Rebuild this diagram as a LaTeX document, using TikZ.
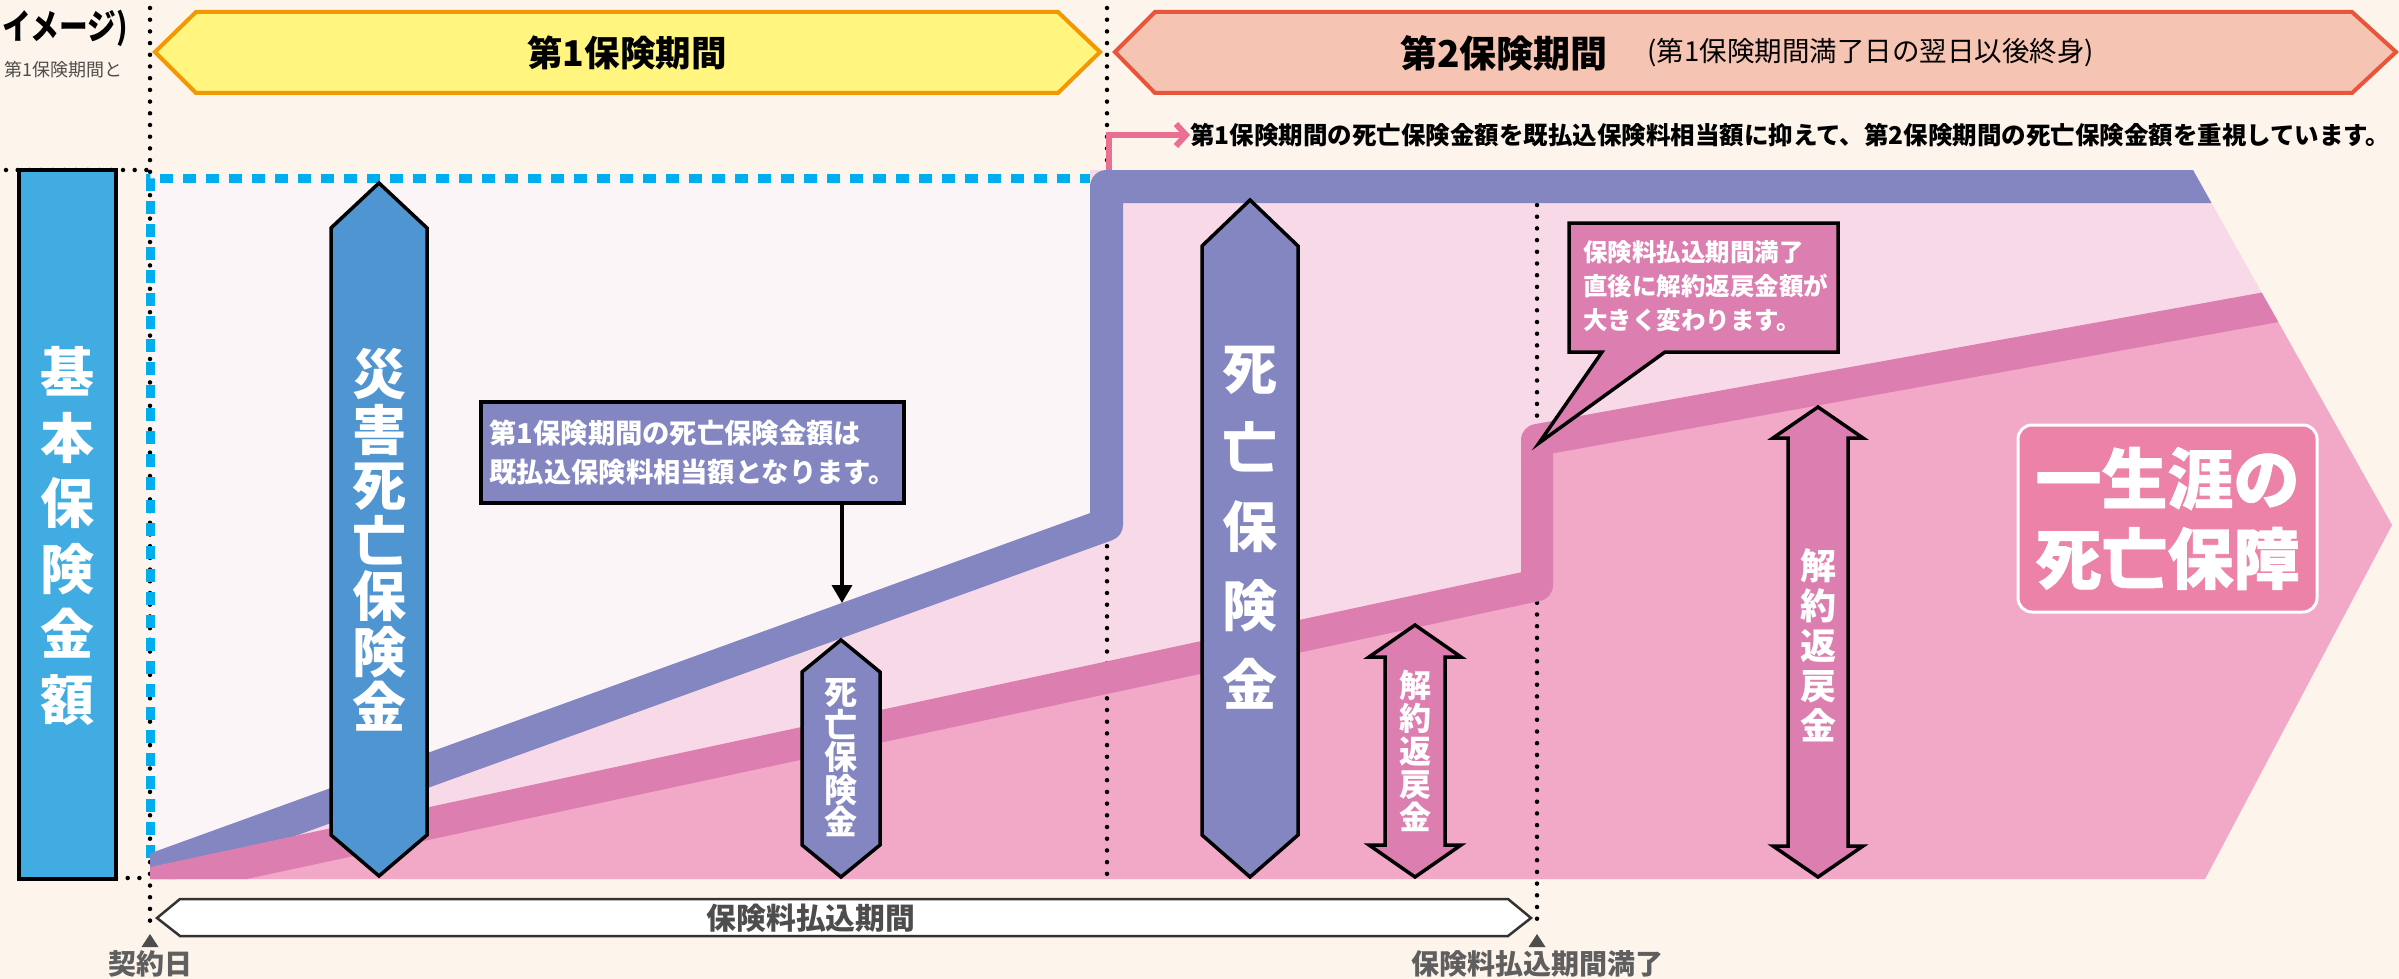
\documentclass[tikz,border=0pt]{standalone}
\usepackage{fontspec}
\setmainfont{Noto Sans CJK JP}
\newfontfamily\heavyfont{Noto Sans CJK JP}[FakeBold=1.2]
\usetikzlibrary{arrows.meta}
\definecolor{bg}{HTML}{FDF4EC}
\definecolor{yelf}{HTML}{FFF57F}
\definecolor{yeld}{HTML}{F39800}
\definecolor{salf}{HTML}{F6C4B3}
\definecolor{sald}{HTML}{E9553A}
\definecolor{vlpink}{HTML}{FCF5F8}
\definecolor{lpink}{HTML}{F8D9E7}
\definecolor{mpink}{HTML}{F2A9C8}
\definecolor{purp}{HTML}{8386C0}
\definecolor{pinkb}{HTML}{DC7FB0}
\definecolor{barblue}{HTML}{40ACE1}
\definecolor{arrblue}{HTML}{4F95D1}
\definecolor{cyanc}{HTML}{00AEEF}
\definecolor{notepink}{HTML}{EA6F92}
\definecolor{boxpink}{HTML}{EC82A8}
\definecolor{txtgray}{HTML}{4D4D4D}
\newcommand\fsz[2]{\fontsize{#1}{#2}\selectfont}
\tikzset{
  dotline/.style={line width=4.5, line cap=round, dash pattern=on 0pt off 11.7pt},
  outl/.style={draw=black, line width=3.5, line join=miter},
  vtext/.style={text=white, font=\bfseries#1, align=center, inner sep=0},
}
\begin{document}
\begin{tikzpicture}[x=1pt,y=-1pt]
\useasboundingbox (0,0) rectangle (2399,979);
\clip (0,0) rectangle (2399,979);
\fill[bg] (0,0) rectangle (2399,979);

% chart fills
\begin{scope}
\clip (150,178) -- (1090,178) -- (1090,170) -- (2193,170) -- (2392,525) -- (2205,879) -- (150,879) -- cycle;
\fill[lpink] (140,160) rectangle (2400,900);
\fill[vlpink] (140,178) -- (1106.5,178) -- (1106.5,524.7) -- (140,874.6) -- cycle;
\fill[mpink] (140,885.6) -- (1537,585.2) -- (1537,440) -- (2400,283.8) -- (2400,900) -- (140,900) -- cycle;
\end{scope}

% dotted guides
\draw[dotline] (150,8) -- (150,930);
\draw[dotline] (1107,8) -- (1107,880);
\draw[dotline] (1537,205) -- (1537,930);
\draw[dotline] (6,170) -- (150,170);
\draw[dotline] (116,878) -- (150,878);

% dashed cyan frame
\draw[cyanc, line width=9, dash pattern=on 13 off 10] (150,858) -- (150,178) -- (1090,178);

% bands
\begin{scope}
\clip (150,178) -- (1090,178) -- (1090,170) -- (2193,170) -- (2392,525) -- (2205,879) -- (150,879) -- cycle;
\draw[purp, line width=33, line join=round] (140,874.6) -- (1106.5,524.7) -- (1106.5,186.5) -- (2400,186.5);
\draw[pinkb, line width=32, line join=round] (140,885.6) -- (1537,585.2) -- (1537,440) -- (2400,283.8);
\end{scope}

% headers
\draw[yeld, fill=yelf, line width=4] (155,52) -- (196,12) -- (1058,12) -- (1100,52) -- (1058,93) -- (196,93) -- cycle;
\node[font=\bfseries\fsz{35.5}{40}] (h1) at (627,53) {第1保険期間};
\draw[sald, fill=salf, line width=4] (1115,52) -- (1155,12) -- (2352,12) -- (2396,52) -- (2352,93) -- (1155,93) -- cycle;
\node[font=\bfseries\fsz{37}{40}] (h2) at (1504,53) {第2保険期間};
\node[font=\fsz{27.5}{30}, anchor=west] (h2b) at (1644,53) {(第1保険期間満了日の翌日以後終身)};

% top-left title fragments
\node[font=\bfseries\fsz{35}{40}, anchor=east, xscale=0.82, inner sep=0] (ttl) at (128,28) {イメージ)};
\node[font=\fsz{18}{22}, text=txtgray, anchor=east, inner sep=0] (sub) at (123,70) {第1保険期間と};

% pink note arrow
\node[font=\bfseries\fsz{24.5}{28}, anchor=west, inner sep=0] (note) at (1190,135) {第1保険期間の死亡保険金額を既払込保険料相当額に抑えて、第2保険期間の死亡保険金額を重視しています。};
\coordinate (nstart) at (1109,170);
\draw[notepink, line width=6, -{Straight Barb[length=10,width=22,line width=6]}] (nstart) -- (1109,135) -- (note.west);

% basic amount bar
\draw[outl, fill=barblue] (19,170) rectangle (116,879);
\node[vtext=\fsz{54}{65.5}] (kihon) at (67,536) {基\\本\\保\\険\\金\\額};

% disaster death benefit arrow
\draw[outl, fill=arrblue] (379,183) -- (427,228) -- (427,835) -- (379,876) -- (331,835) -- (331,228) -- cycle;
\node[vtext=\fsz{54}{55.5}] (saigai) at (379,540) {災\\害\\死\\亡\\保\\険\\金};

% small death benefit arrow (1st period)
\draw[outl, fill=purp] (841,640) -- (880,672) -- (880,845) -- (841,877) -- (802,845) -- (802,672) -- cycle;
\node[vtext=\fsz{33}{32.5}] (shibo1) at (841,758) {死\\亡\\保\\険\\金};

% callout 1
\node[outl, fill=purp, text=white, font=\bfseries\fsz{27.3}{39}, align=left, minimum width=423, minimum height=101, inner sep=0] (c1) at (692.5,452.5) {第1保険期間の死亡保険金額は\\既払込保険料相当額となります。};
\coordinate (c1tip) at (842,603);
\draw[line width=3.5, -{Triangle[length=18,width=20]}] (c1.south -| c1tip) -- (c1tip);

% big death benefit arrow (2nd period)
\draw[outl, fill=purp] (1250,200) -- (1298,246) -- (1298,835) -- (1250,877) -- (1202,835) -- (1202,246) -- cycle;
\node[vtext=\fsz{55}{79}] (shibo2) at (1250,528) {死\\亡\\保\\険\\金};

% small surrender arrow
\draw[outl, fill=pinkb] (1415,625) -- (1461,657) -- (1445,657) -- (1445,845) -- (1461,845) -- (1415,877) -- (1369,845) -- (1385,845) -- (1385,657) -- (1369,657) -- cycle;
\node[vtext=\fsz{32}{33}] (kaiyaku1) at (1415,751) {解\\約\\返\\戻\\金};

% big surrender arrow
\draw[outl, fill=pinkb] (1818,407) -- (1863,438) -- (1848,438) -- (1848,846) -- (1863,846) -- (1818,877) -- (1773,846) -- (1788,846) -- (1788,438) -- (1773,438) -- cycle;
\node[vtext=\fsz{36}{40}] (kaiyaku2) at (1818,645) {解\\約\\返\\戻\\金};

% callout 2
\draw[outl, fill=pinkb] (1569,223) -- (1838,223) -- (1838,352) -- (1665,352) -- (1539,443) -- (1602,352) -- (1569,352) -- cycle;
\node[text=white, font=\bfseries\fsz{24.5}{34}, align=left, anchor=north west, inner sep=0] (c2) at (1583,240) {保険料払込期間満了\\直後に解約返戻金額が\\大きく変わります。};

% lifetime box
\node[draw=white, line width=3, fill=boxpink, rounded corners=14, minimum width=299, minimum height=187, text=white, font=\heavyfont\bfseries\fsz{66}{80}, align=center] (life) at (2167.5,518.5) {一生涯の\\死亡保障};

% bottom period arrow
\draw[draw=black!80, fill=white, line width=2.5] (157,918) -- (180,899) -- (1508,899) -- (1531,918) -- (1508,936) -- (180,936) -- cycle;
\node[font=\bfseries\fsz{29.8}{32}, text=txtgray] (pay) at (811,918) {保険料払込期間};

% markers
\fill[txtgray] (150,934) -- (158.5,947) -- (141.5,947) -- cycle;
\fill[txtgray] (1537,934) -- (1545.5,947) -- (1528.5,947) -- cycle;
\node[font=\bfseries\fsz{28}{30}, text=txtgray!90!white] (start) at (150,964) {契約日};
\node[font=\bfseries\fsz{28}{30}, text=txtgray!90!white] (end) at (1537,964) {保険料払込期間満了};
\end{tikzpicture}
\end{document}
